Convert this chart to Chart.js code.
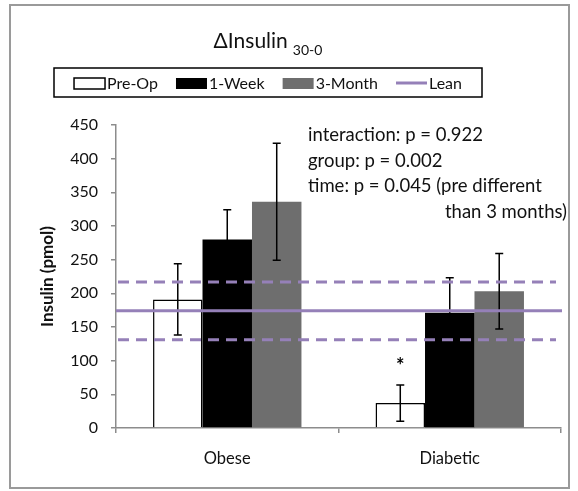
<!DOCTYPE html>
<html>
<head>
<meta charset="utf-8">
<script src="https://cdn.jsdelivr.net/npm/chart.js@4/dist/chart.umd.min.js"></script>
<style>
  body { margin: 0; background: #fff; }
  #wrap { width: 578px; height: 491px; }
</style>
</head>
<body>
<div id="wrap"><canvas id="insulinChart" width="578" height="491"></canvas></div>
<script>
// --- data ---
const groups = ["Obese", "Diabetic"];
const preOp = [191, 37];
const preOpErr = [53, 27];
const oneWeek = [280, 171];
const oneWeekErr = [44, 52];
const threeMonth = [336, 203];
const threeMonthErr = [87, 56];
const preOpMarks = ["", "*"];
const leanMean = 174;
const leanSD = 43;
const yMax = 450;
const yStep = 50;
const statsLines = [
  "interaction: p = 0.922",
  "group: p = 0.002",
  "time: p = 0.045 (pre different",
];
const statsLastLine = "than 3 months)";

const FONT = "Lato, 'Liberation Sans', sans-serif";
const LEAN_COLOR = "#9580b8";
const AXIS_COLOR = "#8c8c8c";

const errorSets = [preOpErr, oneWeekErr, threeMonthErr];

// frame, title, legend, lean band, error bars, notes
const decorPlugin = {
  id: "decor",
  beforeDraw(chart) {
    const ctx = chart.ctx;
    ctx.save();
    ctx.fillStyle = "#fff";
    ctx.fillRect(0, 0, chart.width, chart.height);
    ctx.strokeStyle = "#9a9a9a";
    ctx.lineWidth = 2;
    ctx.strokeRect(10, 5, 559, 483);
    ctx.restore();
  },
  afterDatasetsDraw(chart) {
    const ctx = chart.ctx;
    const y = chart.scales.y;
    const area = chart.chartArea;
    ctx.save();

    // error bars
    ctx.strokeStyle = "#000";
    ctx.lineWidth = 1.5;
    chart.data.datasets.forEach((ds, d) => {
      const meta = chart.getDatasetMeta(d);
      meta.data.forEach((bar, i) => {
        const v = ds.data[i];
        const e = errorSets[d][i];
        const top = y.getPixelForValue(v + e);
        const bot = y.getPixelForValue(v - e);
        ctx.beginPath();
        ctx.moveTo(bar.x, top);
        ctx.lineTo(bar.x, bot);
        ctx.moveTo(bar.x - 4, top);
        ctx.lineTo(bar.x + 4, top);
        ctx.moveTo(bar.x - 4, bot);
        ctx.lineTo(bar.x + 4, bot);
        ctx.stroke();
        if (d === 0 && preOpMarks[i]) {
          ctx.fillStyle = "#000";
          ctx.font = "bold 20px " + FONT;
          ctx.textAlign = "center";
          ctx.textBaseline = "middle";
          ctx.fillText(preOpMarks[i], bar.x, top - 18);
        }
      });
    });

    // lean mean +/- SD
    ctx.strokeStyle = LEAN_COLOR;
    ctx.lineWidth = 3;
    const ym = y.getPixelForValue(leanMean);
    ctx.beginPath();
    ctx.moveTo(area.left, ym);
    ctx.lineTo(area.right + 1, ym);
    ctx.stroke();
    ctx.setLineDash([11, 7]);
    [leanMean + leanSD, leanMean - leanSD].forEach((v) => {
      const yy = y.getPixelForValue(v);
      ctx.beginPath();
      ctx.moveTo(area.left + 2, yy);
      ctx.lineTo(area.right - 5, yy);
      ctx.stroke();
    });
    ctx.setLineDash([]);

    // stats text
    ctx.fillStyle = "#111";
    ctx.font = "18.5px " + FONT;
    ctx.textBaseline = "middle";
    ctx.textAlign = "left";
    statsLines.forEach((t, k) => ctx.fillText(t, 308, 135 + k * 25.7));
    ctx.textAlign = "right";
    ctx.fillText(statsLastLine, 567, 135 + 3 * 25.7);

    // title with subscript
    ctx.textAlign = "left";
    ctx.textBaseline = "alphabetic";
    ctx.font = "21px " + FONT;
    const main = "\u0394Insulin";
    const sub = "30-0";
    const wMain = ctx.measureText(main).width;
    ctx.font = "14px " + FONT;
    const wSub = ctx.measureText(sub).width;
    const tx = 268 - (wMain + 5 + wSub) / 2;
    ctx.font = "21px " + FONT;
    ctx.fillText(main, tx, 48);
    ctx.font = "14px " + FONT;
    ctx.fillText(sub, tx + wMain + 5, 55);

    // legend
    ctx.strokeStyle = "#000";
    ctx.lineWidth = 1.5;
    ctx.strokeRect(54, 68, 428, 29);
    ctx.font = "16px " + FONT;
    const items = chart.data.datasets.map((ds) => ({ label: ds.label, ds }));
    items.push({ label: "Lean", lean: true });
    const sw = 31, gapText = 2, gapItem = 18;
    let total = 0;
    items.forEach((it) => {
      it.w = ctx.measureText(it.label).width;
      total += sw + gapText + it.w;
    });
    total += gapItem * (items.length - 1);
    let lx = 268 - total / 2;
    const ly = 83;
    items.forEach((it) => {
      if (it.lean) {
        ctx.strokeStyle = LEAN_COLOR;
        ctx.lineWidth = 3;
        ctx.beginPath();
        ctx.moveTo(lx, ly);
        ctx.lineTo(lx + sw, ly);
        ctx.stroke();
      } else {
        ctx.fillStyle = it.ds.backgroundColor;
        ctx.fillRect(lx, ly - 5, sw, 11);
        if (it.ds.borderWidth) {
          ctx.strokeStyle = "#000";
          ctx.lineWidth = 1.5;
          ctx.strokeRect(lx, ly - 5, sw, 11);
        }
      }
      ctx.fillStyle = "#111";
      ctx.textBaseline = "middle";
      ctx.fillText(it.label, lx + sw + gapText, ly + 1);
      lx += sw + gapText + it.w + gapItem;
    });

    ctx.restore();
  },
};

const ctx = document.getElementById("insulinChart").getContext("2d");
new Chart(ctx, {
  type: "bar",
  data: {
    labels: groups,
    datasets: [
      { label: "Pre-Op", data: preOp, backgroundColor: "#ffffff", borderColor: "#000", borderWidth: 1.5 },
      { label: "1-Week", data: oneWeek, backgroundColor: "#000000", borderWidth: 0 },
      { label: "3-Month", data: threeMonth, backgroundColor: "#6e6e6e", borderWidth: 0 },
    ],
  },
  options: {
    responsive: false,
    animation: false,
    layout: { padding: { top: 125, right: 17, bottom: 0, left: 0 } },
    datasets: { bar: { categoryPercentage: 0.667, barPercentage: 1.0 } },
    plugins: { legend: { display: false }, title: { display: false }, tooltip: { enabled: false } },
    scales: {
      x: {
        grid: { drawOnChartArea: false, offset: true, tickLength: 5, color: AXIS_COLOR, lineWidth: 1.5 },
        border: { color: AXIS_COLOR, width: 1.5 },
        ticks: { color: "#111", font: { family: FONT, size: 16.5 }, padding: 16 },
        afterFit(scale) { scale.height = 63; },
      },
      y: {
        min: 0,
        max: yMax,
        ticks: { stepSize: yStep, color: "#111", font: { family: FONT, size: 16 }, padding: 13 },
        grid: { drawOnChartArea: false, tickLength: 5, color: AXIS_COLOR, lineWidth: 1.5 },
        border: { color: AXIS_COLOR, width: 1.5 },
        title: {
          display: true,
          text: "Insulin (pmol)",
          color: "#111",
          font: { family: FONT, size: 17, weight: "bold" },
          padding: { top: 37 },
        },
        afterFit(scale) { scale.width = 116; },
      },
    },
  },
  plugins: [decorPlugin],
});
</script>
</body>
</html>
